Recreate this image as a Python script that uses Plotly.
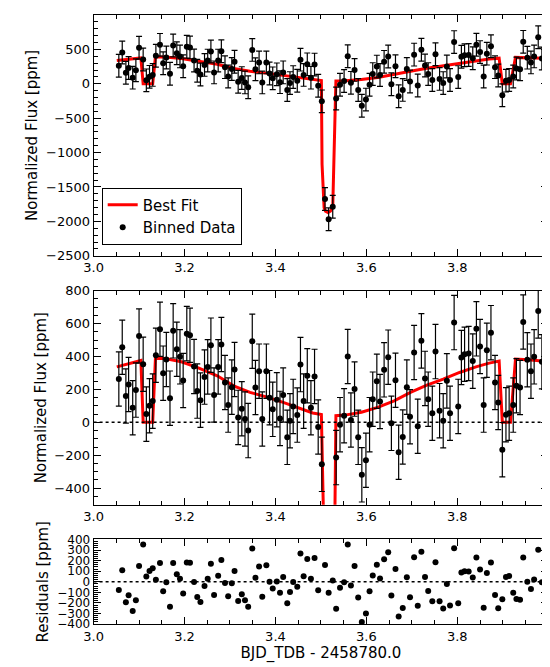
import numpy as np
import plotly.graph_objects as go

time_bjd = [3.0555,3.063,3.071,3.077,3.086,3.093,3.100,3.109,3.116,3.123,3.130,3.137,3.146,3.153,3.160,3.168,3.175,3.183,3.190,3.197,
            3.205,3.212,3.221,3.228,3.235,3.244,3.251,3.258,3.265,3.274,3.281,3.289,3.296,3.304,3.310,3.318,3.326,3.333,3.340,3.349,
            3.356,3.364,3.371,3.380,3.387,3.394,3.403,3.410,3.417,3.426,3.432,3.439,3.448,3.455,3.462,3.470,3.478,3.486,3.494,3.502,
            3.509,3.517,3.526,3.5335,3.542,3.551,3.559,3.566,3.574,3.582,3.590,3.599,3.607,3.614,3.623,3.630,3.639,3.648,3.655,3.664,
            3.671,3.680,3.689,3.696,3.705,3.713,3.721,3.729,3.736,3.745,3.752,3.761,3.769,3.777,3.784,3.793,3.802,3.809,3.816,3.825,
            3.834,3.842,3.850,3.858,3.865,3.874,3.883,3.890,3.899,3.907,3.914,3.923,3.930,3.938,3.945,3.954,3.962,3.969,3.978,3.986]
flux_ppm = [263,456,160,230,89,196,525,353,50,101,129,408,566,299,382,147,556,444,398,254,
            539,529,339,190,135,275,337,469,166,337,473,242,105,214,321,30,83,20,-50,493,
            212,311,20,311,150,79,137,24,166,-91,10,97,44,351,129,283,89,279,-28,-255,
            -1675,-1969,-1787,-214,-14,40,400,14,202,-91,-319,-230,-14,141,250,127,319,396,-6,256,
            -182,-89,214,34,424,-24,495,267,141,55,430,71,10,252,55,606,97,394,414,418,
            372,568,461,105,438,545,242,121,-166,46,55,105,222,212,610,380,311,398,677,368]
ERR_PPM = 165

model_time = [3.051,3.100,3.104,3.109,3.130,3.136,3.157,3.193,3.229,3.272,3.308,3.344,3.380,3.417,3.453,3.482,3.501,
              3.5025,3.507,3.510,3.5155,3.521,3.526,3.532,3.533,3.553,3.589,3.625,3.661,3.697,3.733,3.769,3.805,3.841,
              3.870,3.892,3.899,3.917,3.928,3.956,3.990]
model_flux = [337,376,376,0,0,388,388,368,333,283,222,182,155,121,85,57,48,
              -1170,-1800,-1850,-1870,-1850,-1800,-200,40,44,61,91,131,182,226,263,303,337,
              360,372,0,0,384,380,372]

x_ticks = [3.0, 3.2, 3.4, 3.6, 3.8, 4.0]
x_labels = ["3.0", "3.2", "3.4", "3.6", "3.8", "4.0"]

residuals = list(np.array(flux_ppm) - np.interp(time_bjd, model_time, model_flux))

FONT = "DejaVu Sans"
fig = go.Figure()
for i, ya in enumerate(["y", "y2"]):
    xa = "x" if i == 0 else "x2"
    fig.add_trace(go.Scatter(x=model_time, y=model_flux, mode="lines", line=dict(color="red", width=3),
                             name="Best Fit", showlegend=(i == 0), xaxis=xa, yaxis=ya))
    fig.add_trace(go.Scatter(x=time_bjd, y=flux_ppm, mode="markers", marker=dict(color="black", size=6),
                             error_y=dict(type="constant", value=ERR_PPM, color="black", thickness=1.2, width=3),
                             name="Binned Data", showlegend=(i == 0), xaxis=xa, yaxis=ya))
fig.add_trace(go.Scatter(x=time_bjd, y=residuals, mode="markers", marker=dict(color="black", size=6),
                         showlegend=False, xaxis="x3", yaxis="y3"))

def ax(size=13, **kw):
    d = dict(showline=True, mirror="allticks", linecolor="black", linewidth=1, ticks="inside",
             ticklen=7, tickcolor="black", showgrid=False, zeroline=False,
             tickfont=dict(family=FONT, size=size, color="black"),
             minor=dict(ticks="inside", ticklen=4, tickcolor="black"))
    d.update(kw)
    return d

xdom = [0.14, 0.982]
xr = [3.0, 4.0001]
fig.update_layout(
    width=550, height=667, margin=dict(l=0, r=0, t=0, b=0),
    plot_bgcolor="white", paper_bgcolor="white",
    font=dict(family=FONT, color="black"),
    xaxis=ax(domain=xdom, range=xr, tickvals=x_ticks, ticktext=x_labels, anchor="y"),
    yaxis=ax(domain=[0.6307, 1.0], range=[-2500, 1000], dtick=500, anchor="x",
             title=dict(text="Normalized Flux [ppm]", font=dict(size=15), standoff=4)),
    xaxis2=ax(domain=xdom, range=xr, tickvals=x_ticks, ticktext=x_labels, anchor="y2"),
    yaxis2=ax(domain=[0.249, 0.5772], range=[-500, 800], dtick=200, anchor="x2",
              title=dict(text="Normalized Flux [ppm]", font=dict(size=15), standoff=4)),
    xaxis3=ax(domain=xdom, range=xr, tickvals=x_ticks, ticktext=x_labels, anchor="y3",
              title=dict(text="BJD_TDB - 2458780.0", font=dict(size=15), standoff=4)),
    yaxis3=ax(size=12, domain=[0.0658, 0.1956], range=[-400, 400], dtick=100, anchor="x3",
              title=dict(text="Residuals [ppm]", font=dict(size=15), standoff=4)),
    legend=dict(x=0.155, y=0.648, xanchor="left", yanchor="bottom", bordercolor="black", borderwidth=1,
                bgcolor="white", font=dict(size=15, family=FONT)),
    shapes=[dict(type="line", xref="x2 domain", yref="y2", x0=0, x1=1, y0=0, y1=0,
                 line=dict(color="black", width=1.5, dash="dot")),
            dict(type="line", xref="x3 domain", yref="y3", x0=0, x1=1, y0=0, y1=0,
                 line=dict(color="black", width=1.5, dash="dot"))],
)
fig.write_html("out.html")
